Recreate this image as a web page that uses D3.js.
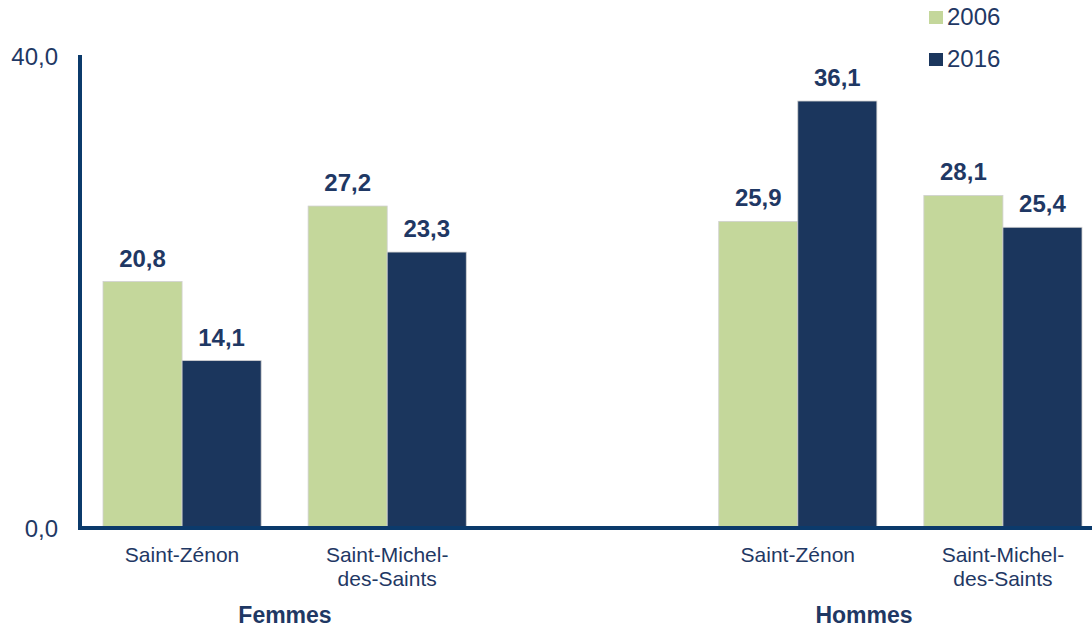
<!DOCTYPE html>
<html>
<head>
<meta charset="utf-8">
<script src="https://cdn.jsdelivr.net/npm/d3@7"></script>
<style>
  body { margin: 0; background: #fff; }
  text { font-family: "Liberation Sans", Arial, sans-serif; fill: #1f3864; }
</style>
</head>
<body>
<svg id="chart" width="1092" height="629"></svg>
<script>
// data
const groups = ["Femmes", "Hommes"]
const cities = ["Saint-Zénon", "Saint-Michel-des-Saints"]
const cityLines = [["Saint-Zénon"], ["Saint-Michel-", "des-Saints"]]
const years = ["2006", "2016"]
const values2006 = [20.8, 27.2, 25.9, 28.1]   // Femmes SZ, Femmes SMdS, Hommes SZ, Hommes SMdS
const values2016 = [14.1, 23.3, 36.1, 25.4]
const yTicks = [0, 40]

const colors = { "2006": "#c4d79b", "2016": "#1b365d" }
const axisColor = "#0b3a6b"

const svg = d3.select("#chart")

const y = d3.scaleLinear().domain([0, 40]).range([527, 55])

const xGroup = d3.scaleBand().domain(groups).range([103, 1082]).paddingInner(0.41)
const xCity = d3.scaleBand().domain(cities).range([0, xGroup.bandwidth()]).paddingInner(0.229)
const xYear = d3.scaleBand().domain(years).range([0, xCity.bandwidth()])

const fmt = v => d3.format(".1f")(v).replace(".", ",")

// flatten rows
const rows = []
groups.forEach((g, gi) => {
    cities.forEach((c, ci) => {
        const k = gi * cities.length + ci
        rows.push({ group: g, city: c, year: "2006", value: values2006[k] })
        rows.push({ group: g, city: c, year: "2016", value: values2016[k] })
    })
})
const barX = d => xGroup(d.group) + xCity(d.city) + xYear(d.year)

// bars
svg.selectAll(".bar")
    .data(rows)
    .enter().append("rect")
    .attr("class", "bar")
    .attr("x", barX)
    .attr("y", d => y(d.value))
    .attr("width", xYear.bandwidth())
    .attr("height", d => y(0) - y(d.value))
    .attr("fill", d => colors[d.year])
    .attr("stroke", "#d0d0d0")
    .attr("stroke-width", 0.8)

// value labels
svg.selectAll(".val")
    .data(rows)
    .enter().append("text")
    .attr("class", "val")
    .attr("x", d => barX(d) + xYear.bandwidth() / 2)
    .attr("y", d => y(d.value) - 15)
    .attr("text-anchor", "middle")
    .attr("font-size", "24px")
    .attr("font-weight", "bold")
    .text(d => fmt(d.value))

// axes lines
svg.append("line")
    .attr("x1", 80).attr("x2", 80)
    .attr("y1", y(40)).attr("y2", y(0) + 3)
    .attr("stroke", axisColor).attr("stroke-width", 4)
svg.append("line")
    .attr("x1", 78).attr("x2", 1092)
    .attr("y1", y(0) + 1).attr("y2", y(0) + 1)
    .attr("stroke", axisColor).attr("stroke-width", 4)

// y tick labels
svg.selectAll(".ytick")
    .data(yTicks)
    .enter().append("text")
    .attr("class", "ytick")
    .attr("x", 58)
    .attr("y", d => y(d) + 10)
    .attr("text-anchor", "end")
    .attr("font-size", "24px")
    .text(d => fmt(d))

// city labels
groups.forEach(g => {
    cities.forEach((c, ci) => {
        const cx = xGroup(g) + xCity(c) + xCity.bandwidth() / 2
        const t = svg.append("text")
            .attr("x", cx)
            .attr("y", 562)
            .attr("text-anchor", "middle")
            .attr("font-size", "21px")
        cityLines[ci].forEach((line, li) => {
            t.append("tspan").attr("x", cx).attr("dy", li === 0 ? 0 : 24).text(line)
        })
    })
})

// group labels
const groupLabelX = { "Femmes": 285, "Hommes": 864 }
svg.selectAll(".glabel")
    .data(groups)
    .enter().append("text")
    .attr("class", "glabel")
    .attr("x", d => groupLabelX[d])
    .attr("y", 623)
    .attr("text-anchor", "middle")
    .attr("font-size", "23px")
    .attr("font-weight", "bold")
    .text(d => d)

// legend
const legend = svg.selectAll(".leg")
    .data(years)
    .enter().append("g")
    .attr("class", "leg")
    .attr("transform", (d, i) => `translate(929, ${11 + i * 42})`)
legend.append("rect")
    .attr("width", 14).attr("height", 13)
    .attr("fill", d => colors[d])
legend.append("text")
    .attr("x", 18).attr("y", 14)
    .attr("font-size", "24px")
    .text(d => d)
</script>
</body>
</html>
